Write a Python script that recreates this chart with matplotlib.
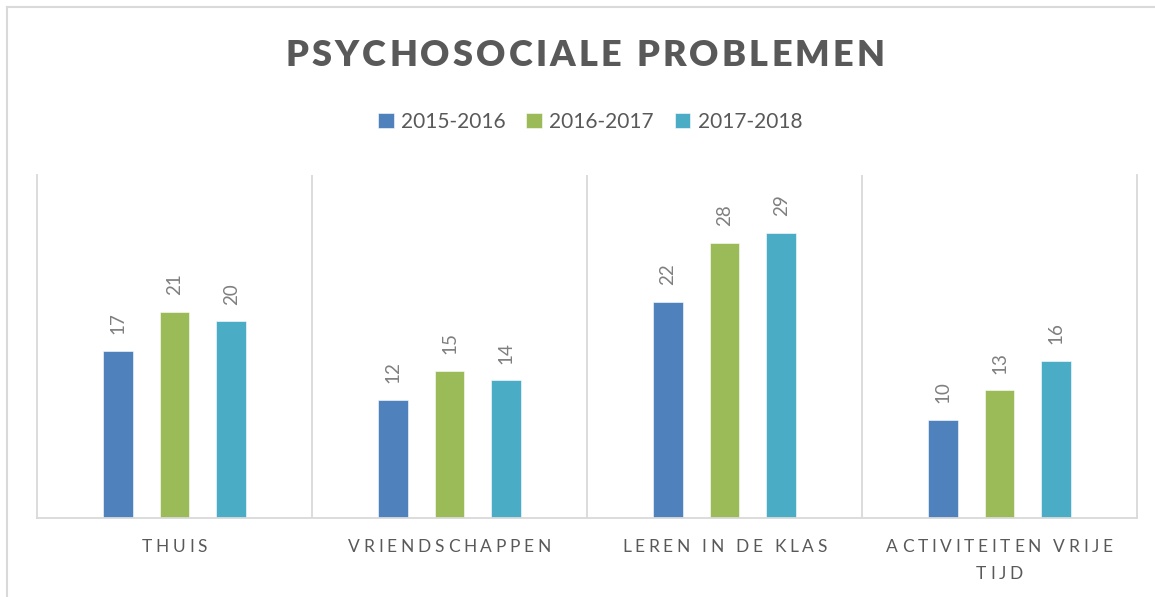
import numpy as np
import matplotlib.pyplot as plt
from matplotlib.lines import Line2D

# data
categories = [["THUIS"], ["VRIENDSCHAPPEN"], ["LEREN IN DE KLAS"], ["ACTIVITEITEN VRIJE", "TIJD"]]
series = ["2015-2016", "2016-2017", "2017-2018"]
values = [
    [17, 12, 22, 10],
    [21, 15, 28, 13],
    [20, 14, 29, 16],
]
colors = ["#4F81BD", "#9BBB59", "#4BACC6"]

W, H = 1155, 597
plt.rcParams['font.family'] = ['Lato', 'DejaVu Sans']
fig = plt.figure(figsize=(W / 100, H / 100), dpi=100)
ax = fig.add_axes([37 / W, 1 - 518 / H, 1100 / W, 343 / H])

x = np.arange(len(categories))
offs = [-0.207, 0, 0.207]
bars = []
for i, s in enumerate(series):
    b = ax.bar(x + offs[i], values[i], width=0.109, color=colors[i], label=s,
               edgecolor="white", linewidth=0.4)
    bars.append(b)
    for xi, v in zip(x + offs[i], values[i]):
        ax.annotate(str(v), (xi, v), xytext=(0, 12), textcoords="offset points",
                    ha="center", va="bottom", rotation=90, fontsize=13.5, color="#7f7f7f")

ax.set_xlim(-0.5, 3.5)
ax.set_ylim(0, 34.9)
ax.set_xticks([])
ax.set_yticks([])
for side in ["left", "right", "bottom"]:
    ax.spines[side].set_color("#d9d9d9")
    ax.spines[side].set_linewidth(1.3)
ax.spines["top"].set_visible(False)
for xs in [0.5, 1.5, 2.5]:
    ax.axvline(xs, color="#d9d9d9", lw=1.3)

# outer chart border (only left and top are inside the picture)
fig.add_artist(Line2D([6.5 / W, 6.5 / W], [0, 1 - 7 / H], color="#d9d9d9", lw=1.5))
fig.add_artist(Line2D([6.5 / W, 1], [1 - 7 / H, 1 - 7 / H], color="#d9d9d9", lw=1.5))

renderer = fig.canvas.get_renderer()


def tracked(cx, cy, s, track, **kw):
    # text with extra letter spacing, centred at pixel (cx, cy)
    def width(t):
        tt = fig.text(0, 0, t, **kw)
        w = tt.get_window_extent(renderer).width
        tt.remove()
        return w
    space = width("x x") - width("xx")
    ws = [space if ch == " " else width(ch) for ch in s]
    total = sum(ws) + track * (len(s) - 1)
    left = cx - total / 2
    for ch, w in zip(s, ws):
        if ch != " ":
            fig.text(left / W, 1 - cy / H, ch, ha="left", va="center", **kw)
        left += w + track


tracked(585, 55, "PSYCHOSOCIALE PROBLEMEN", 3.2, fontsize=26, fontweight="heavy", color="#595959")

for xi, lines in zip(x, categories):
    cx = 37 + (xi + 0.5) * 275
    for j, ln in enumerate(lines):
        tracked(cx, 547 + j * 27, ln, 3.7, fontsize=12.5, color="#595959")

fig.legend(handles=bars, labels=series, loc="center", bbox_to_anchor=(590 / W, 1 - 122 / H),
           ncol=3, frameon=False, fontsize=15, labelcolor="#595959",
           handlelength=0.75, handleheight=0.75, handletextpad=0.35, columnspacing=1.0)

fig.savefig("out.png", dpi=100)
